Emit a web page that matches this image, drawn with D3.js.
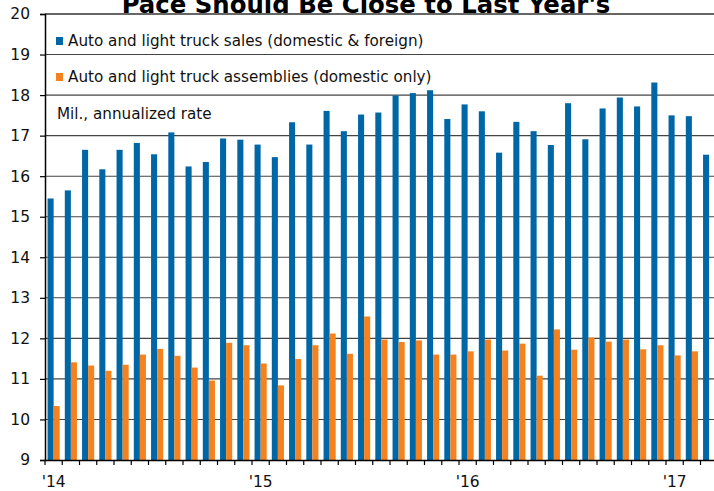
<!DOCTYPE html>
<html><head><meta charset="utf-8">
<script src="https://cdn.jsdelivr.net/npm/d3@7"></script>
<style>html,body{margin:0;padding:0;background:#fff;overflow:hidden}svg{display:block}</style>
</head><body><svg id="c" width="714" height="491"></svg>
<script>
const months = ["Jan14","Feb14","Mar14","Apr14","May14","Jun14","Jul14","Aug14","Sep14","Oct14","Nov14","Dec14",
"Jan15","Feb15","Mar15","Apr15","May15","Jun15","Jul15","Aug15","Sep15","Oct15","Nov15","Dec15",
"Jan16","Feb16","Mar16","Apr16","May16","Jun16","Jul16","Aug16","Sep16","Oct16","Nov16","Dec16",
"Jan17","Feb17","Mar17","Apr17"];
const sales = [15.45,15.65,16.65,16.17,16.65,16.82,16.54,17.08,16.24,16.35,16.93,16.90,
16.78,16.47,17.33,16.78,17.61,17.11,17.52,17.57,17.99,18.05,18.12,17.41,
17.77,17.60,16.58,17.34,17.11,16.77,17.80,16.91,17.67,17.94,17.72,18.31,
17.50,17.48,16.53];
const assemblies = [10.33,11.41,11.33,11.20,11.35,11.60,11.74,11.57,11.28,10.96,11.89,11.83,
11.38,10.84,11.49,11.83,12.12,11.62,12.54,11.97,11.91,11.95,11.60,11.60,
11.68,11.97,11.70,11.87,11.08,12.22,11.72,12.02,11.92,11.97,11.73,11.83,
11.58,11.68];
const yearLabels = [{m:"Jan14",t:"'14"},{m:"Jan15",t:"'15"},{m:"Jan16",t:"'16"},{m:"Jan17",t:"'17"}];
const yTicks = [9,10,11,12,13,14,15,16,17,18,19,20];
const seriesNames = ["Auto and light truck sales (domestic & foreign)","Auto and light truck assemblies (domestic only)"];
const colors = ["#0067a7","#f5821f"];
const title = "Pace Should Be Close to Last Year's";
const unitNote = "Mil., annualized rate";

const svg = d3.select("#c");
const font = "'DejaVu Sans', Verdana, sans-serif";
const mLeft = 45, mTop = 14, mBottom = 460;
const x = d3.scaleBand().domain(months).range([mLeft, mLeft + 17.25*months.length]).paddingInner(0).paddingOuter(0);
const inner = d3.scaleBand().domain([0,1]).range([0, x.bandwidth()]).paddingOuter(0.42).paddingInner(0);
const y = d3.scaleLinear().domain([9,20]).range([mBottom, mTop]);

// gridlines
svg.append("g").selectAll("line").data(yTicks.filter(d=>d>9)).join("line")
  .attr("x1", mLeft).attr("x2", 714).attr("y1", d=>y(d)).attr("y2", d=>y(d))
  .attr("stroke", d=> d===20 ? "#333" : "#444").attr("stroke-width", d=> d===20 ? 1.6 : 1.1);

// bars
const gb = svg.append("g");
gb.selectAll("rect.s").data(sales).join("rect").attr("class","s")
  .attr("x",(d,i)=>x(months[i])+inner(0)).attr("width",inner.bandwidth())
  .attr("y",d=>y(d)).attr("height",d=>y(9)-y(d)).attr("fill",colors[0]);
gb.selectAll("rect.a").data(assemblies).join("rect").attr("class","a")
  .attr("x",(d,i)=>x(months[i])+inner(1)).attr("width",inner.bandwidth())
  .attr("y",d=>y(d)).attr("height",d=>y(9)-y(d)).attr("fill",colors[1]);

// y axis
const ya = svg.append("g").attr("transform",`translate(${mLeft},0)`)
  .call(d3.axisLeft(y).tickValues(yTicks).tickSize(5).tickPadding(10).tickFormat(d3.format("d")));
ya.select(".domain").attr("stroke","#000").attr("stroke-width",1.5);
ya.selectAll(".tick line").attr("stroke","#000").attr("stroke-width",1.2);
ya.selectAll("text").attr("font-family",font).attr("font-size",15.5).attr("fill","#111");

// x axis
const xa = svg.append("g").attr("transform",`translate(0,${mBottom})`)
  .call(d3.axisBottom(x).tickValues([]).tickSizeOuter(0));
xa.select(".domain").attr("stroke","#000").attr("stroke-width",1.5);
xa.append("g").selectAll("line").data(months).join("line")
  .attr("x1",d=>x(d)).attr("x2",d=>x(d)).attr("y1",0).attr("y2",5)
  .attr("stroke","#000").attr("stroke-width",1.2);
xa.append("g").selectAll("text").data(yearLabels).join("text")
  .attr("x",d=>x(d.m)+x.bandwidth()/2).attr("y",27).attr("text-anchor","middle")
  .attr("font-family",font).attr("font-size",15.5).attr("fill","#111").text(d=>d.t);

// title (clipped at the top edge, as in the reference)
svg.append("text").attr("x",366).attr("y",13).attr("text-anchor","middle")
  .attr("font-family",font).attr("font-weight","bold").attr("font-size",24.4).attr("fill","#000").text(title);

// legend
const lg = svg.append("g");
seriesNames.forEach((n,i)=>{
  const yy = 41 + i*36;
  lg.append("rect").attr("x",56).attr("y",yy-4).attr("width",7).attr("height",8).attr("fill",colors[i]);
  lg.append("text").attr("x",68).attr("y",yy+5).attr("font-family",font).attr("font-size",15.2).attr("fill","#111").text(n);
});
svg.append("text").attr("x",57).attr("y",119).attr("font-family",font).attr("font-size",15.2).attr("fill","#111").text(unitNote);
</script></body></html>
